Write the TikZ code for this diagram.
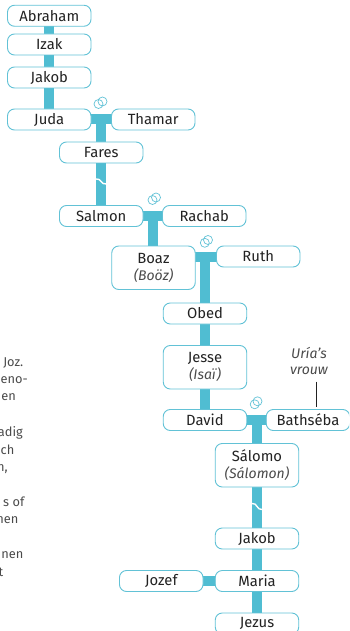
\documentclass[tikz,border=0pt]{standalone}
\usepackage{fontspec}
\setmainfont{Fira Sans}
\usetikzlibrary{backgrounds}
\definecolor{linkc}{HTML}{50BDD2}
\definecolor{edgec}{HTML}{62C2D6}
\definecolor{inkc}{HTML}{222222}
\definecolor{italc}{HTML}{4A4A4A}
\tikzset{
  x=1pt,y=-1pt,
  person/.style={draw=edgec,line width=.9pt,fill=white,rounded corners=7pt,minimum width=83.5pt,minimum height=21pt,inner sep=0pt,text=inkc,font=\fontsize{14.8}{17}\selectfont,align=center},
  tall/.style={person,minimum height=43.5pt},
  link/.style={draw=linkc,line width=10pt},
  ring/.style={draw=edgec,line width=.7pt},
  wave/.style={draw=white,line width=1.4pt,line cap=round},
  side/.style={anchor=base east,inner sep=0pt,text=italc,font=\fontsize{12.8}{13}\selectfont},
  note/.style={inner sep=0pt,text=italc,align=center,font=\fontsize{14}{16.5}\selectfont\itshape},
}
\newcommand{\alt}[1]{\\{\color{italc}\fontsize{14}{17}\selectfont\itshape #1}}
\begin{document}
\begin{tikzpicture}
\useasboundingbox (0,0) rectangle (349,631);
\clip (0,0) rectangle (349,631);
\node[person] (abraham) at (49.25,15.75) {Abraham};
\node[person] (izak) at (49.25,44.5) {Izak};
\node[person] (jakoba) at (49.25,77.5) {Jakob};
\node[person] (juda) at (49.25,119.5) {Juda};
\node[person] (thamar) at (153.25,119.5) {Thamar};
\node[person] (fares) at (101.25,152.5) {Fares};
\node[person] (salmon) at (101.25,216) {Salmon};
\node[person] (rachab) at (204.25,216) {Rachab};
\node[tall] (boaz) at (153.5,267.75) {Boaz\alt{(Boöz)}};
\node[person] (ruth) at (258.25,256.5) {Ruth};
\node[person] (obed) at (205,313.5) {Obed};
\node[tall] (jesse) at (205,367.25) {Jesse\alt{(Isaï)}};
\node[person] (david) at (205,420) {David};
\node[person] (bathseba) at (308,420) {Bathséba};
\node[tall] (salomo) at (257,465.25) {Sálomo\alt{(Sálomon)}};
\node[person] (jakobb) at (257,538.5) {Jakob};
\node[person] (maria) at (257,581) {Maria};
\node[person] (jozef) at (161.25,581) {Jozef};
\node[person] (jezus) at (257,623.5) {Jezus};
\node[note] (uria) at (309,361) {Uría's\\vrouw};
\coordinate (ua) at (316.5,381.5);
\coordinate (ub) at (316.5,407);
\coordinate (m1) at (101.25,119.5);
\coordinate (m2) at (152.5,216);
\coordinate (m3) at (205,256.5);
\coordinate (m4) at (257,420);
\begin{scope}[on background layer]
\draw[link] (abraham.center) -- (izak.center);
\draw[link] (izak.center) -- (jakoba.center);
\draw[link] (jakoba.center) -- (juda.center);
\draw[link] (juda.center) -- (thamar.center);
\draw[link] (m1) -- (fares.center);
\draw[link] (fares.center) -- (salmon.center);
\draw[link] (salmon.center) -- (rachab.center);
\draw[link] (m2) -- (m2 |- boaz.center);
\draw[link] (boaz.center |- ruth.center) -- (ruth.center);
\draw[link] (m3) -- (obed.center);
\draw[link] (obed.center) -- (jesse.center);
\draw[link] (jesse.center) -- (david.center);
\draw[link] (david.center) -- (bathseba.center);
\draw[link] (m4) -- (salomo.center);
\draw[link] (salomo.center) -- (jakobb.center);
\draw[link] (jakobb.center) -- (maria.center);
\draw[link] (maria.center) -- (jezus.center);
\draw[link] (jozef.center) -- (maria.center);
\end{scope}
\draw[draw=inkc,line width=.8pt] (ua) -- (ub);
\draw[wave] (96,179) .. controls (101.5,178) and (100.5,185) .. (106.5,184);
\draw[wave] (252,503.5) .. controls (257.5,502.5) and (256.5,510.5) .. (262.5,509.5);
\foreach \cx/\cy in {98.5/104,102.5/101.5,152.5/200,156/197.5,204.8/242.8,208/240,254.7/404.3,257.5/401.3}
  \draw[ring] (\cx,\cy) circle (4.5);
\node[side] (t1) at (23.5,366) {Joz.};
\node[side] (t2) at (28,383) {eno-};
\node[side] (t3) at (16,400.5) {en};
\node[side] (t4) at (23,436.5) {adig};
\node[side] (t5) at (14.5,454) {ch};
\node[side] (t6) at (8,471) {n,};
\node[side] (t7) at (24.5,506) {s of};
\node[side] (t8) at (18.5,523.5) {nen};
\node[side] (t9) at (23.5,558.5) {nen};
\node[side] (t10) at (3.5,576) {t};
\end{tikzpicture}
\end{document}
